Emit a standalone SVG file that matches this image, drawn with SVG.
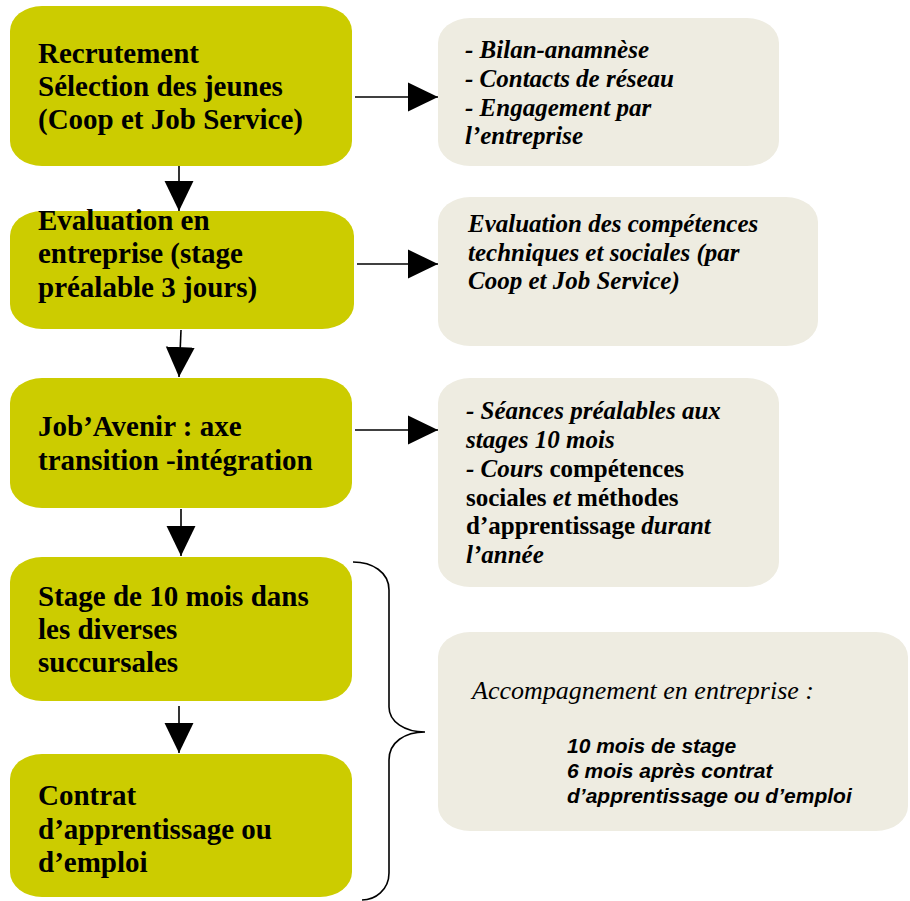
<svg xmlns="http://www.w3.org/2000/svg" width="910" height="901" viewBox="0 0 910 901">
  <defs>
    <marker id="head" markerUnits="userSpaceOnUse" markerWidth="30" markerHeight="30" viewBox="0 0 28 28" refX="28" refY="14" orient="auto">
      <path d="M0,0.5 L28,14 L0,27.5 Z" fill="#000"/>
    </marker>
    <style>
      .step { fill: #CCCC00; }
      .note { fill: #EEECE1; }
      .main { font-family: "Liberation Serif", Tinos, "Times New Roman", Times, "Nimbus Roman", "DejaVu Serif", serif; font-weight: bold; font-size: 29px; fill: #000; }
      .side { font-family: "Liberation Serif", Tinos, "Times New Roman", Times, "Nimbus Roman", "DejaVu Serif", serif; font-weight: bold; font-style: italic; font-size: 25px; fill: #000; }
      .up { font-style: normal; }
      .lead { font-family: "Liberation Serif", Tinos, "Times New Roman", Times, "Nimbus Roman", "DejaVu Serif", serif; font-style: italic; font-size: 26px; fill: #000; }
      .sans { font-family: "Liberation Sans", Arial, sans-serif; font-weight: bold; font-style: italic; font-size: 21px; fill: #000; }
      .link { stroke: #000; stroke-width: 1.6; fill: none; marker-end: url(#head); }
      .brace { stroke: #000; stroke-width: 1.6; fill: none; }
    </style>
  </defs>

  <!-- process steps -->
  <g id="recrutement">
    <rect class="step" x="10" y="6" width="342" height="160" rx="32" ry="25"/>
    <text class="main" x="38" y="63">Recrutement</text>
    <text class="main" x="38" y="96">Sélection des jeunes</text>
    <text class="main" x="38" y="129">(Coop et Job Service)</text>
  </g>

  <g id="evaluation">
    <rect class="step" x="10" y="211" width="344" height="118" rx="32" ry="25"/>
    <text class="main" x="38" y="230">Evaluation en</text>
    <text class="main" x="38" y="263">entreprise (stage</text>
    <text class="main" x="38" y="297">préalable 3 jours)</text>
  </g>

  <g id="job-avenir">
    <rect class="step" x="10" y="378" width="342" height="130" rx="32" ry="25"/>
    <text class="main" x="38" y="436">Job’Avenir : axe</text>
    <text class="main" x="38" y="470">transition -intégration</text>
  </g>

  <g id="stage">
    <rect class="step" x="10" y="557" width="342" height="144" rx="32" ry="25"/>
    <text class="main" x="38" y="606">Stage de 10 mois dans</text>
    <text class="main" x="38" y="639">les diverses</text>
    <text class="main" x="38" y="672">succursales</text>
  </g>

  <g id="contrat">
    <rect class="step" x="10" y="754" width="342" height="143" rx="32" ry="25"/>
    <text class="main" x="38" y="805">Contrat</text>
    <text class="main" x="38" y="839">d’apprentissage ou</text>
    <text class="main" x="38" y="872">d’emploi</text>
  </g>

  <!-- side notes -->
  <g id="note-recrutement">
    <rect class="note" x="438" y="18" width="341" height="148" rx="32" ry="25"/>
    <text class="side" x="465" y="58">- Bilan-anamnèse</text>
    <text class="side" x="465" y="87">- Contacts de réseau</text>
    <text class="side" x="465" y="116">- Engagement par</text>
    <text class="side" x="465" y="144">l’entreprise</text>
  </g>

  <g id="note-evaluation">
    <rect class="note" x="438" y="197" width="380" height="149" rx="32" ry="25"/>
    <text class="side" x="468" y="232">Evaluation des compétences</text>
    <text class="side" x="468" y="261">techniques et sociales (par</text>
    <text class="side" x="468" y="289">Coop et Job Service)</text>
  </g>

  <g id="note-job-avenir">
    <rect class="note" x="438" y="378" width="341" height="209" rx="32" ry="25"/>
    <text class="side" x="466" y="419">- Séances préalables aux</text>
    <text class="side" x="466" y="448">stages 10 mois</text>
    <text class="side" x="466" y="477">- Cours<tspan class="up"> compétences</tspan></text>
    <text class="side" x="466" y="506"><tspan class="up">sociales </tspan>et<tspan class="up"> méthodes</tspan></text>
    <text class="side" x="466" y="534"><tspan class="up">d’apprentissage </tspan>durant</text>
    <text class="side" x="466" y="563">l’année</text>
  </g>

  <g id="note-accompagnement">
    <rect class="note" x="438" y="632" width="470" height="199" rx="32" ry="25"/>
    <text class="lead" x="472" y="699">Accompagnement en entreprise :</text>
    <text class="sans" x="567" y="753">10 mois de stage</text>
    <text class="sans" x="567" y="778">6 mois après contrat</text>
    <text class="sans" x="567" y="803">d’apprentissage ou d’emploi</text>
  </g>

  <!-- connectors -->
  <g id="connectors">
    <line class="link" x1="355" y1="97" x2="438" y2="97"/>
    <line class="link" x1="357" y1="264" x2="438" y2="264"/>
    <line class="link" x1="355" y1="430" x2="438" y2="430"/>
    <line class="link" x1="179" y1="166" x2="179" y2="211"/>
    <line class="link" x1="181" y1="330" x2="179" y2="377"/>
    <line class="link" x1="181" y1="509" x2="181" y2="556"/>
    <line class="link" x1="179" y1="706" x2="179" y2="753"/>
    <path class="brace" d="M353,562 C372,562 389,572 389,590 L389,707 C389,722 405,732 425,732 C405,732 389,742 389,760 L389,873 C389,890 375,900 362,900"/>
  </g>
</svg>
